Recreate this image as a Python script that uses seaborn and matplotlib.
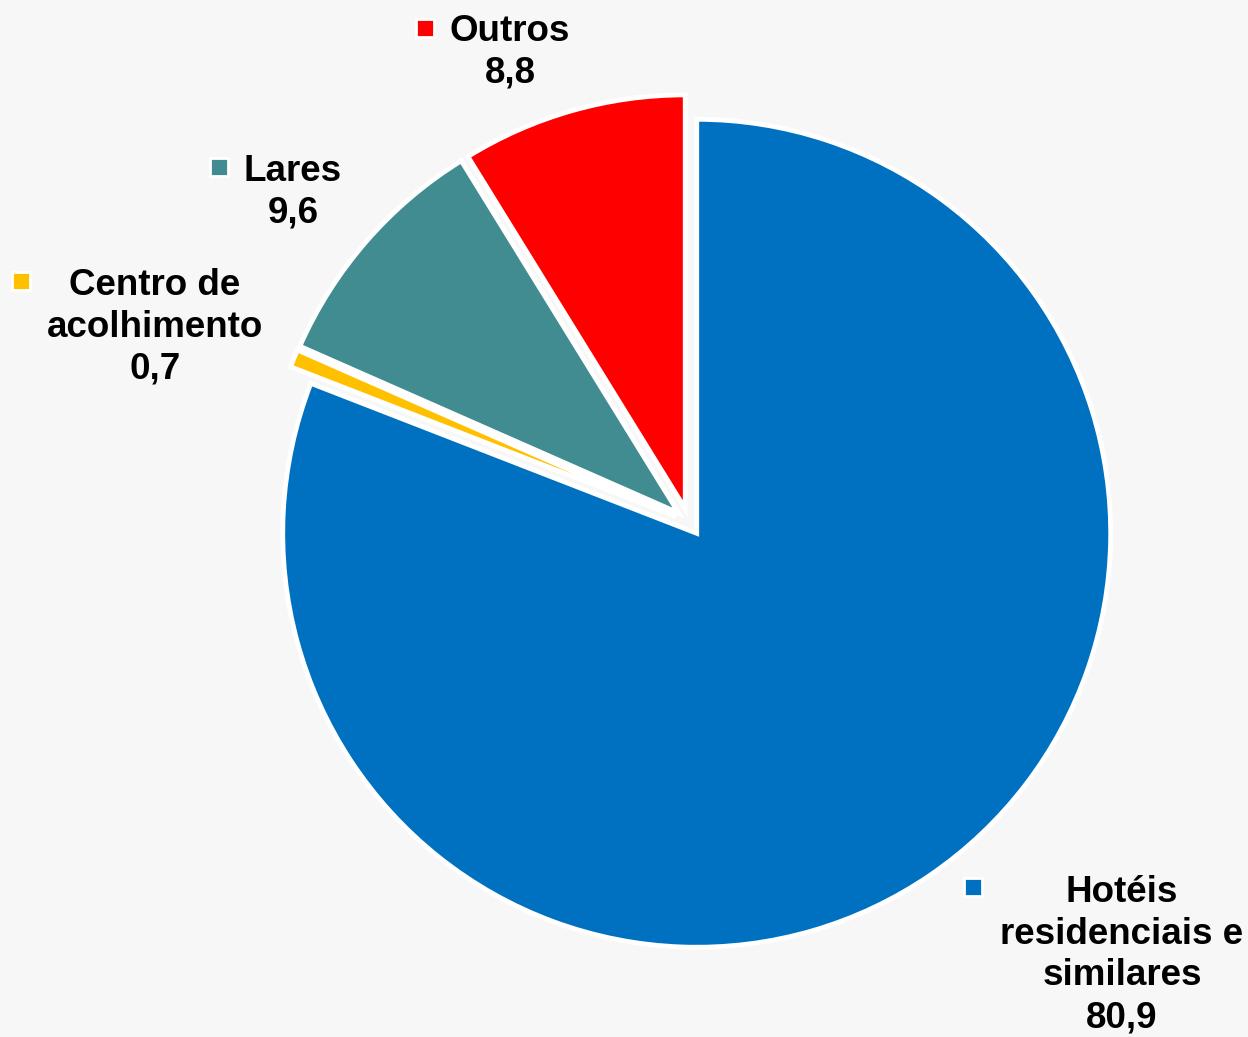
import matplotlib
matplotlib.use("Agg")
import matplotlib.pyplot as plt
import seaborn as sns

# dados (%)
categorias = ["Hotéis\nresidenciais e\nsimilares", "Centro de\nacolhimento", "Lares", "Outros"]
valores = [80.9, 0.7, 9.6, 8.8]
cores = ["#0070C0", "#FFC000", "#408C90", "#FF0000"]

# posição dos rótulos (centro do bloco de texto e do quadrado, em pixels da figura)
pos_texto = [(1122, 955), (155, 327), (293, 192), (510, 52)]
pos_quadrado = [(973, 887), (21, 281), (219, 167), (425, 28)]

W, H = 1248, 1037
FUNDO = "#F7F7F7"

sns.set_theme(style="white", rc={"figure.facecolor": FUNDO, "axes.facecolor": FUNDO})
plt.rcParams["font.family"] = ["Liberation Sans", "DejaVu Sans"]

fig = plt.figure(figsize=(W / 100, H / 100), dpi=100)
ax = fig.add_axes([0, 0, 1, 1])

# centro da tarte e raio em pixels
cx, cy, R = 689, 522, 414
ax.pie(valores, colors=sns.color_palette(cores), startangle=90, counterclock=False,
       explode=[0.033] * len(valores), radius=1,
       wedgeprops=dict(edgecolor="white", linewidth=3.5))
ax.set_xlim(-cx / R, (W - cx) / R)
ax.set_ylim(-(H - cy) / R, cy / R)
ax.set_aspect("auto")
ax.axis("off")

for nome, v, cor, (tx, ty), (qx, qy) in zip(categorias, valores, cores, pos_texto, pos_quadrado):
    rotulo = nome + "\n" + f"{v:.1f}".replace(".", ",")
    fig.text(tx / W, 1 - ty / H, rotulo, ha="center", va="center", multialignment="center",
             fontsize=26.5, fontweight="bold", color="black", linespacing=1.25)
    fig.add_artist(plt.Line2D([qx / W], [1 - qy / H], marker="s", markersize=13,
                              markerfacecolor=cor, markeredgecolor="white", markeredgewidth=2,
                              linestyle="none"))

fig.savefig("out.png", dpi=100, facecolor=FUNDO)
